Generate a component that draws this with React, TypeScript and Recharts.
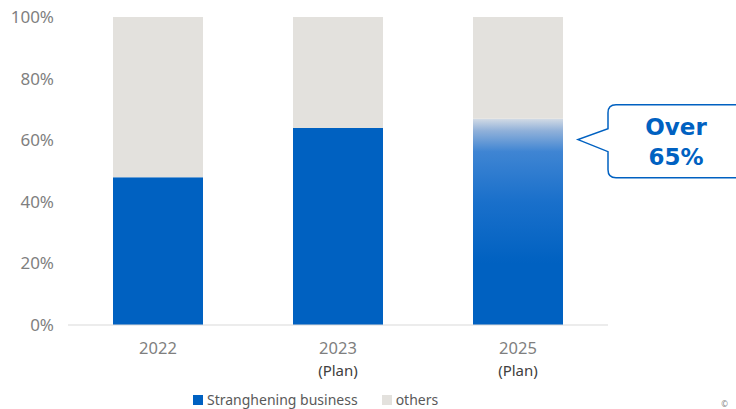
import React from 'react'
import { BarChart, Bar, XAxis, YAxis, Cell, Legend } from 'recharts'

const years = ['2022', '2023', '2025']
const planNotes = ['', '(Plan)', '(Plan)']
const strengthening = [48, 64, 67]
const others = [52, 36, 33]
const yTicks = [0, 20, 40, 60, 80, 100]
const seriesNames = ['Stranghening business', 'others']
const calloutLines = ['Over', '65%']

const BLUE = '#0061c1'
const GREY = '#e3e1dd'

const data = years.map((year, i) => ({
  year,
  note: planNotes[i],
  strengthening: strengthening[i],
  others: others[i],
}))

const YearTick = (props: any) => {
  const { x, y, payload, index } = props
  return (
    <g>
      <text x={x} y={y + 14} textAnchor="middle" dominantBaseline="central" fill="#7f7f7f" fontSize={16.5} fontFamily="Noto Sans">
        {payload.value}
      </text>
      {planNotes[index] && (
        <text x={x} y={y + 37} textAnchor="middle" dominantBaseline="central" fill="#404040" fontSize={15} fontFamily="Noto Sans">
          {planNotes[index]}
        </text>
      )}
    </g>
  )
}

// speech bubble pointing at the 2025 bar
const Callout = (props: any) => {
  const { x, y, width, index } = props
  if (index !== years.length - 1) return null
  const tipX = x + width + 15
  const tipY = y + 21
  const left = tipX + 30
  const top = tipY - 35
  const bottom = tipY + 38
  const right = 750
  const r = 8
  const d = [
    `M${left},${tipY - 11}`,
    `L${left},${top + r}`,
    `Q${left},${top} ${left + r},${top}`,
    `L${right},${top}`,
    `L${right},${bottom}`,
    `L${left + r},${bottom}`,
    `Q${left},${bottom} ${left},${bottom - r}`,
    `L${left},${tipY + 12}`,
    `L${tipX},${tipY}`,
    'Z',
  ].join(' ')
  return (
    <g>
      <path d={d} fill="#ffffff" stroke={BLUE} strokeWidth={1.5} />
      {calloutLines.map((line, i) => (
        <text key={line} x={left + 68} y={tipY - 13 + i * 30} textAnchor="middle" dominantBaseline="central"
          fill={BLUE} fontSize={23} fontWeight="bold" fontFamily="DejaVu Sans">
          {line}
        </text>
      ))}
    </g>
  )
}

const LegendBox = () => (
  <div style={{ display: 'flex', fontFamily: 'Noto Sans', fontSize: 14, color: '#595959', paddingLeft: 193 }}>
    {seriesNames.map((name, i) => (
      <span key={name} style={{ display: 'flex', alignItems: 'center', marginRight: 24 }}>
        <span style={{ width: 10, height: 10, background: i === 0 ? BLUE : GREY, marginRight: 4, display: 'inline-block' }} />
        {name}
      </span>
    ))}
  </div>
)

export default function App() {
  return (
    <div style={{ position: 'absolute', left: 0, top: 0, background: '#fff' }}>
      <BarChart width={736} height={409} data={data} margin={{ top: 17, right: 128, bottom: 5, left: 0 }} barCategoryGap="25%">
        <defs>
          <linearGradient id="fadeBlue" x1="0" y1="0" x2="0" y2="1">
            <stop offset="0%" stopColor="#d3dbe5" />
            <stop offset="6%" stopColor="#8fb0d9" />
            <stop offset="16%" stopColor="#3f85d3" />
            <stop offset="40%" stopColor="#1a70cb" />
            <stop offset="70%" stopColor={BLUE} />
            <stop offset="100%" stopColor={BLUE} />
          </linearGradient>
        </defs>
        <XAxis dataKey="year" axisLine={{ stroke: '#d9d9d9' }} tickLine={false} height={60} tick={<YearTick />} interval={0} />
        <YAxis domain={[0, 100]} ticks={yTicks} width={68} axisLine={false} tickLine={false} tickMargin={8}
          tickFormatter={(v: number) => `${v}%`} tick={{ fill: '#7f7f7f', fontSize: 17, fontFamily: 'Noto Sans' }} />
        <Legend verticalAlign="bottom" content={<LegendBox />} wrapperStyle={{ bottom: 0, left: 0, width: 736 }} />
        <Bar dataKey="strengthening" stackId="a" name={seriesNames[0]} fill={BLUE} isAnimationActive={false} label={<Callout />}>
          {data.map((d, i) => (
            <Cell key={d.year} fill={i === years.length - 1 ? 'url(#fadeBlue)' : BLUE} />
          ))}
        </Bar>
        <Bar dataKey="others" stackId="a" name={seriesNames[1]} fill={GREY} isAnimationActive={false} />
      </BarChart>
      <div style={{ position: 'absolute', right: 8, bottom: 0, fontSize: 8, color: '#7f7f7f', fontFamily: 'Noto Sans' }}>©</div>
    </div>
  )
}
